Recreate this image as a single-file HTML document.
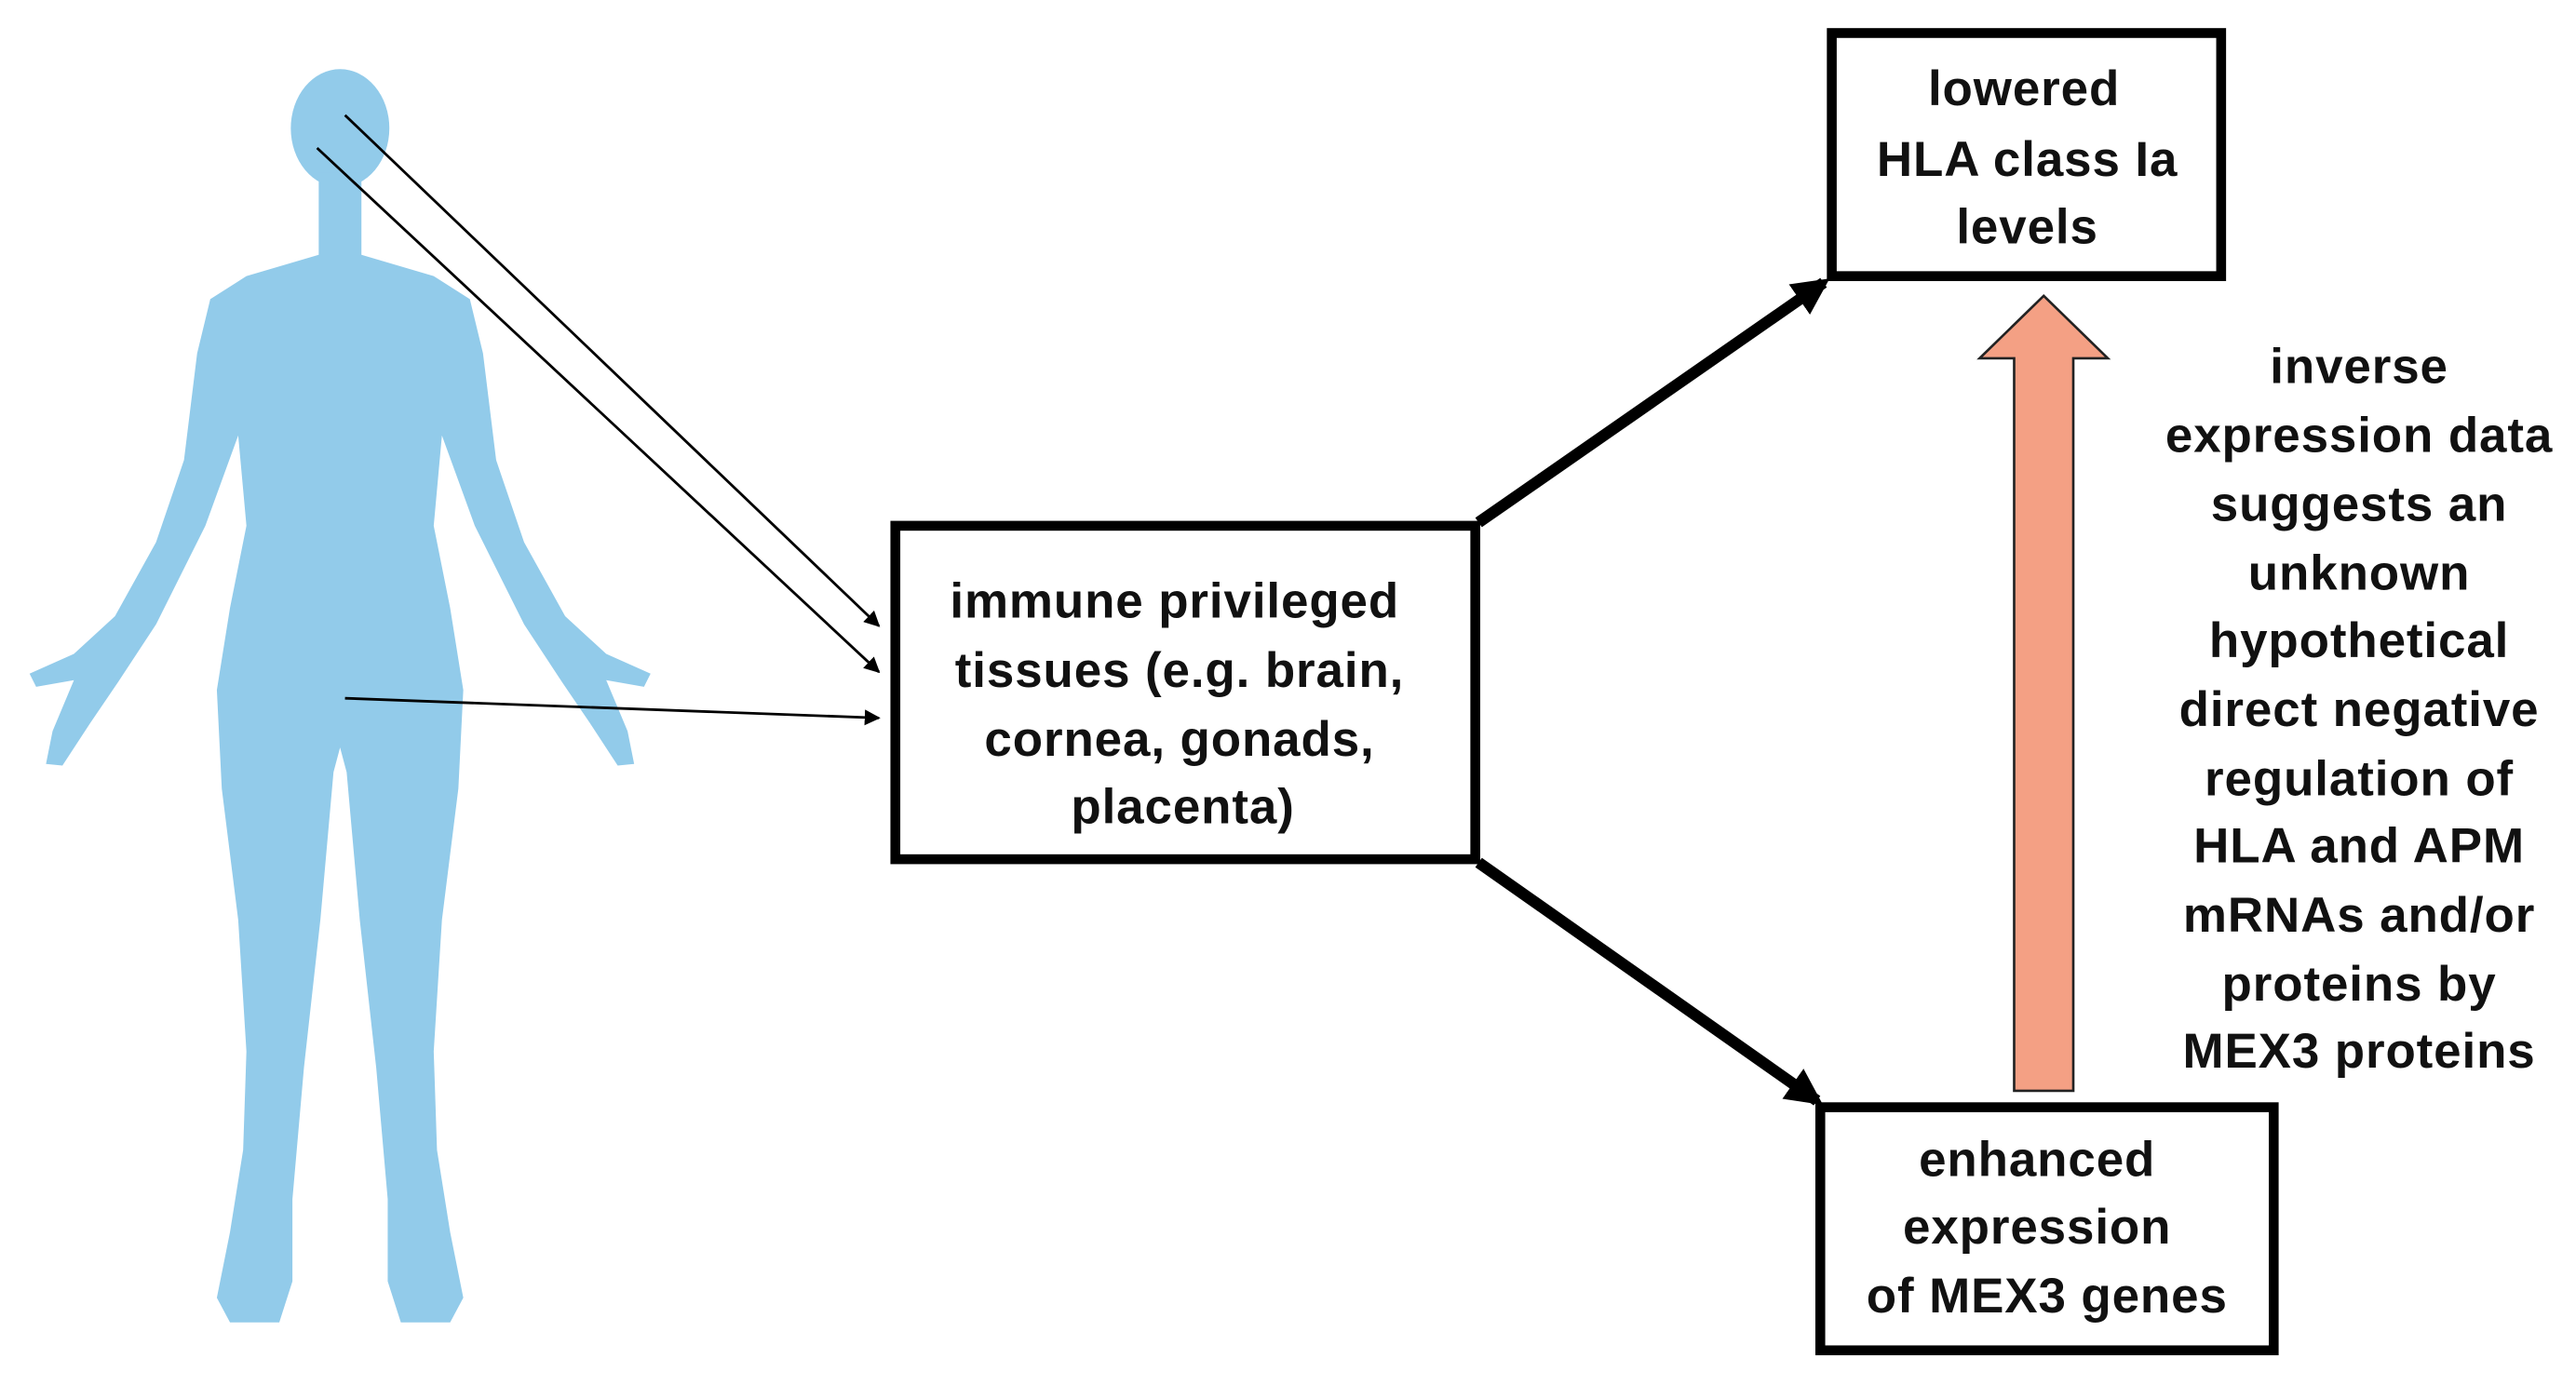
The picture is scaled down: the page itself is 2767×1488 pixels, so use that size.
<!DOCTYPE html>
<html><head><meta charset="utf-8"><style>
html,body{margin:0;padding:0;background:#fff;}
svg{display:block;}
text{font-family:"Liberation Sans",Arial,sans-serif;font-weight:bold;font-size:30px;letter-spacing:0.5px;fill:#111;text-anchor:middle;}
</style></head><body>
<svg width="2767" height="1488" viewBox="0 0 1568 843" xmlns="http://www.w3.org/2000/svg">
<defs>
<marker id="ah" viewBox="0 0 10 10" refX="9" refY="5" markerWidth="6" markerHeight="6" orient="auto" markerUnits="strokeWidth"><path d="M0,0 L10,5 L0,10 z" fill="#000"/></marker>
<marker id="ah2" viewBox="0 0 10 10" refX="8" refY="5" markerWidth="3.2" markerHeight="3.2" orient="auto" markerUnits="strokeWidth"><path d="M0,0 L10,5 L0,10 z" fill="#000"/></marker>
</defs>
<rect width="1568" height="843" fill="#fff"/>
<g fill="#92cbea">
<ellipse cx="207" cy="78" rx="30" ry="36"/>
<rect x="194" y="105" width="26" height="60"/>
<polygon points="194,155 150,168 128,182 120,215 112,280 95,330 70,375 45,398 18,410 22,418 45,414 32,445 28,465 38,466 55,440 72,415 95,380 125,320 145,265 150,320 140,370 132,420 135,480 145,560 150,640 148,700 140,750 132,790 140,805 170,805 178,780 178,730 185,650 195,560 203,470 207,455 211,470 219,560 229,650 236,730 236,780 244,805 274,805 282,790 274,750 266,700 264,640 269,560 279,480 282,420 274,370 264,320 269,265 289,320 319,380 342,415 359,440 376,466 386,465 382,445 369,414 392,418 396,410 369,398 344,375 319,330 302,280 294,215 286,182 264,168 220,155"/>
</g>
<g stroke="#000" stroke-width="1.6" fill="none">
<line x1="210" y1="70" x2="535" y2="381" marker-end="url(#ah)"/>
<line x1="193" y1="90" x2="535" y2="409" marker-end="url(#ah)"/>
<line x1="210" y1="425" x2="535" y2="437" marker-end="url(#ah)"/>
</g>
<g stroke="#000" stroke-width="7" fill="none">
<line x1="900" y1="318" x2="1110" y2="172" marker-end="url(#ah2)"/>
<line x1="900" y1="525" x2="1106" y2="670" marker-end="url(#ah2)"/>
</g>
<polygon points="1244,180 1283,218 1262,218 1262,664 1226,664 1226,218 1205,218" fill="#f4a084" stroke="#222" stroke-width="1.5"/>
<g fill="#fff" stroke="#000" stroke-width="6">
<rect x="545" y="320" width="353" height="203"/>
<rect x="1115" y="20" width="237" height="148"/>
<rect x="1108" y="674" width="276" height="148"/>
</g>
<text x="715" y="376">immune privileged</text>
<text x="718" y="418">tissues (e.g. brain,</text>
<text x="718" y="460">cornea, gonads,</text>
<text x="720" y="501">placenta)</text>
<text x="1232" y="64">lowered</text>
<text x="1234" y="107">HLA class Ia</text>
<text x="1234" y="148">levels</text>
<text x="1240" y="716">enhanced</text>
<text x="1240" y="757">expression</text>
<text x="1246" y="799">of MEX3 genes</text>
<g>
<text x="1436" y="233">inverse</text>
<text x="1436" y="275">expression data</text>
<text x="1436" y="317">suggests an</text>
<text x="1436" y="359">unknown</text>
<text x="1436" y="400">hypothetical</text>
<text x="1436" y="442">direct negative</text>
<text x="1436" y="484">regulation of</text>
<text x="1436" y="525">HLA and APM</text>
<text x="1436" y="567">mRNAs and/or</text>
<text x="1436" y="609">proteins by</text>
<text x="1436" y="650">MEX3 proteins</text>
</g>
</svg>
</body></html>
